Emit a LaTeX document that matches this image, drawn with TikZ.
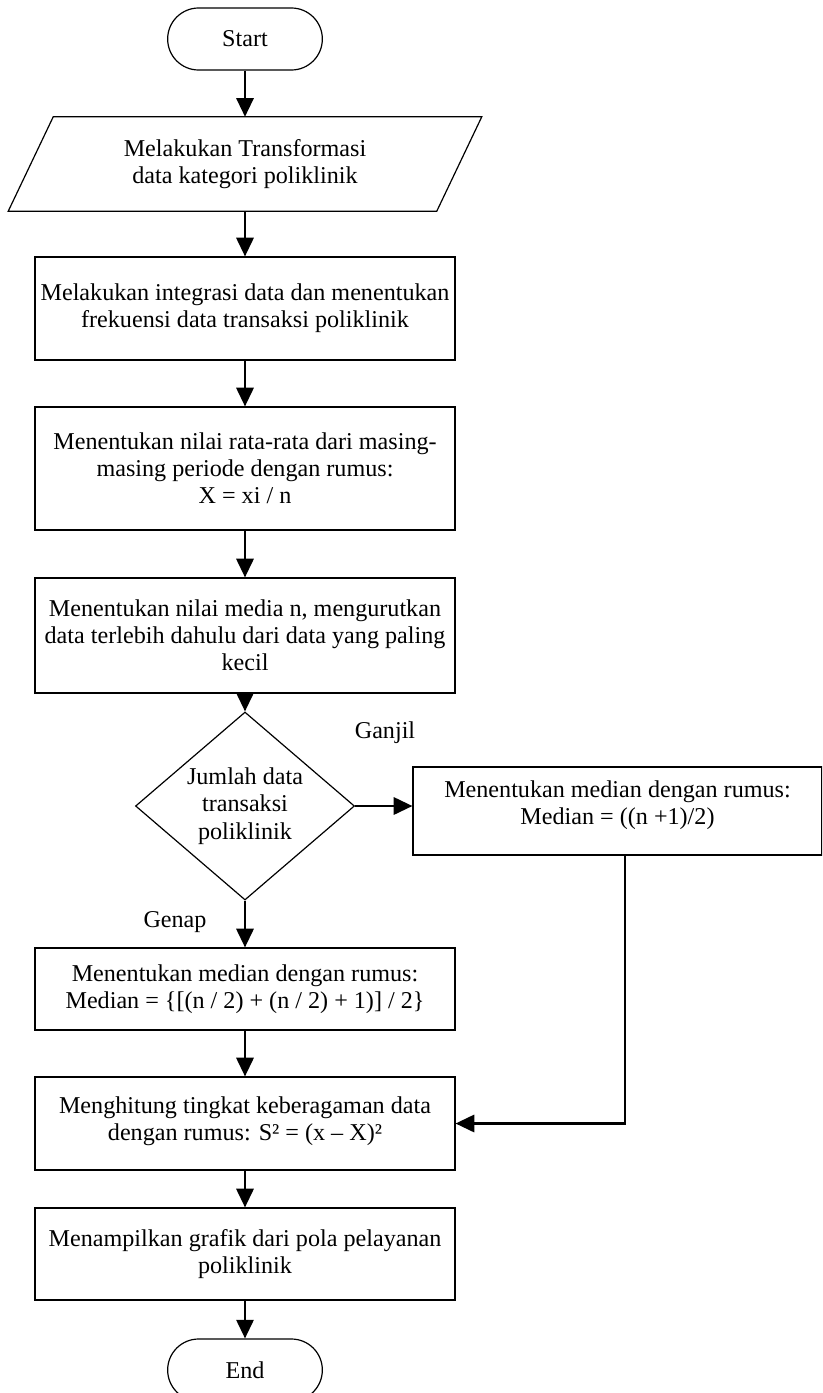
\documentclass[tikz,border=0pt]{standalone}
\usepackage{fontspec}
\setmainfont{Liberation Serif}
\usetikzlibrary{shapes.geometric,arrows.meta}

\begin{document}
\begin{tikzpicture}[x=0.75pt,y=-0.75pt,
  every node/.style={font=\fontsize{18.1pt}{20.4pt}\selectfont, align=center, inner sep=0pt},
  shapeline/.style={line width=0.9pt},
  proc/.style={draw, shapeline, minimum width=315pt},
  term/.style={draw, shapeline, rounded corners=23.2pt, minimum width=116pt, minimum height=46.5pt},
  decision/.style={draw, shapeline, diamond, aspect=1.165, minimum width=164.25pt, minimum height=141pt},
  flow/.style={line width=1.6pt, -{Triangle[length=14pt,width=13pt]}},
  ]
\useasboundingbox (0,0) rectangle (822,1393);
\clip (0,0) rectangle (822,1393);

% terminals, steps and the decision
\node[term] (start) at (245,39) {Start};

\node[minimum width=321pt, minimum height=70.5pt] (input) at (245,164)
  {Melakukan Transformasi\\data kategori poliklinik};
\draw[shapeline] ([xshift=16.9pt]input.north west) -- ([xshift=16.9pt]input.north east)
  -- ([xshift=-16.9pt]input.south east) -- ([xshift=-16.9pt]input.south west) -- cycle;

\node[proc, minimum height=77.25pt] (integ) at (245,308.5)
  {Melakukan integrasi data dan menentukan\\frekuensi data transaksi poliklinik};
\node[proc, minimum height=92.25pt] (mean) at (245,468.5)
  {Menentukan nilai rata-rata dari masing-\\masing periode dengan rumus:\\X = xi / n};
\node[proc, minimum height=86.25pt] (sort) at (245,635.5)
  {Menentukan nilai media n, mengurutkan\\data terlebih dahulu dari data yang paling\\kecil};
\node[decision] (dec) at (245,806) {Jumlah data\\transaksi\\poliklinik};
\node[draw, shapeline, minimum width=306.75pt, minimum height=66pt] (odd) at (617.5,811)
  {Menentukan median dengan rumus:\\Median = ((n +1)/2)\rule[-13pt]{0pt}{0pt}};
\node[proc, minimum height=61.5pt] (even) at (245,989)
  {Menentukan median dengan rumus:\\Median = \{[(n / 2) + (n / 2) + 1)] / 2\}};
\node[proc, minimum height=69.75pt] (var) at (245,1123.5)
  {Menghitung tingkat keberagaman data\\dengan rumus: S² = (x – X)²\rule[-7pt]{0pt}{0pt}};
\node[proc, minimum height=69pt] (graph) at (245,1254)
  {Menampilkan grafik dari pola pelayanan\\poliklinik};
\node[term] (end) at (245,1370) {End};

% branch labels
\node (lodd) at (385,733) {Ganjil};
\node (leven) at (175,922) {Genap};

% connectors
\draw[flow] (start.south) -- (input.north);
\draw[flow] (input.south) -- (integ.north);
\draw[flow] (integ.south) -- (mean.north);
\draw[flow] (mean.south) -- (sort.north);
\draw[flow] (sort.south) -- (dec.north);
\draw[flow] (dec.east) -- (dec.east -| odd.west);
\draw[flow] (dec.south) -- (even.north);
\draw[flow] ([xshift=5.6pt]odd.south) |- (var.east);
\draw[flow] (even.south) -- (var.north);
\draw[flow] (var.south) -- (graph.north);
\draw[flow] (graph.south) -- (end.north);
\end{tikzpicture}
\end{document}
